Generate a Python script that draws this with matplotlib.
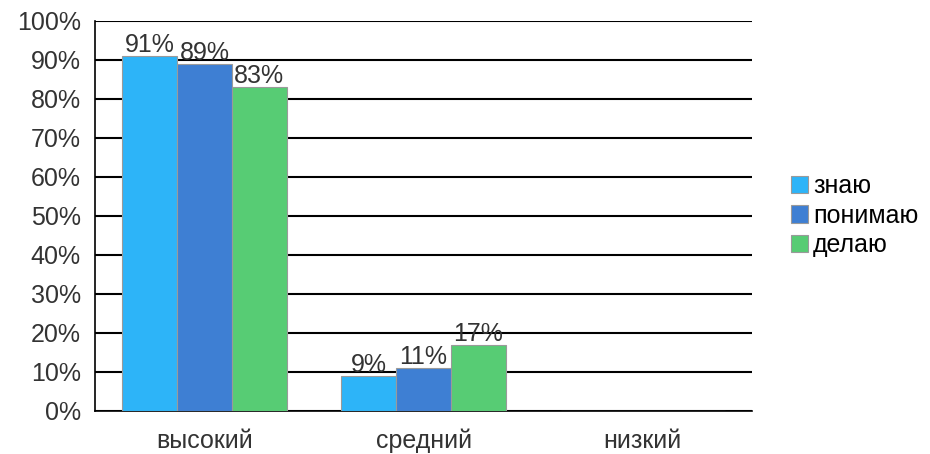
import matplotlib.pyplot as plt
import numpy as np

plt.rcParams['font.family'] = ['Liberation Sans', 'DejaVu Sans']

categories = ["высокий", "средний", "низкий"]
series_names = ["знаю", "понимаю", "делаю"]
znayu = [91, 9, 0]
ponimayu = [89, 11, 0]
delayu = [83, 17, 0]
colors = ["#2DB4F8", "#3E7FD3", "#57CC74"]

fig = plt.figure(figsize=(9.3, 4.54), dpi=100)
ax = fig.add_axes([0.102, 0.095, 0.707, 0.859])

x = np.arange(len(categories))
w = 0.25
for i, (vals, name) in enumerate(zip([znayu, ponimayu, delayu], series_names)):
    pos = x + (i - 1) * w
    bars = ax.bar(pos, vals, w, color=colors[i], edgecolor="#9a9a9a", linewidth=0.8,
                  label=name, zorder=3)
    for p, v in zip(pos, vals):
        if v > 0:
            ax.text(p, v - 0.3, f"{v}%", ha="center", va="bottom", fontsize=18,
                    color="#333333", zorder=4)

ax.set_xlim(-0.5, 2.5)
ax.set_ylim(0, 100)
ax.set_yticks(np.arange(0, 101, 10))
ax.set_yticklabels([f"{t}%" for t in range(0, 101, 10)])
ax.set_xticks(x)
ax.set_xticklabels(categories)
ax.tick_params(axis="both", length=0, labelsize=18, colors="#333333")
ax.tick_params(axis="y", pad=10)
ax.tick_params(axis="x", pad=13)
ax.yaxis.grid(True, color="black", linewidth=1.5, zorder=0)
for s in ["top", "right"]:
    ax.spines[s].set_visible(False)
ax.spines["left"].set_linewidth(1.2)
ax.spines["bottom"].set_linewidth(1.2)

ax.legend(loc="center left", bbox_to_anchor=(1.058, 0.5), frameon=False, fontsize=18,
          handlelength=0.7, handleheight=0.7, handletextpad=0.2, labelspacing=0.22,
          borderpad=0, borderaxespad=0)

fig.savefig("out.png", dpi=100)
